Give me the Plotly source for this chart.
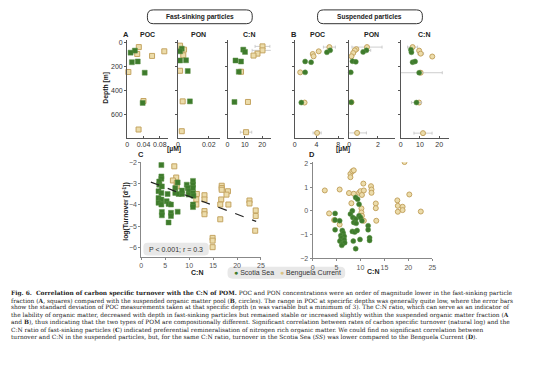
import plotly.graph_objects as go

W, H = 554, 366
GREEN = "#3e7b2c"
TAN_FILL = "#ecdcaa"
TAN_LINE = "#c4a461"

# ---------------- data ----------------
# Panel A (fast-sinking particles), depth in m
a_poc_ss_val = [0.019, 0.0085, 0.0116, 0.026, 0.043, 0.038]
a_poc_ss_dep = [70, 87, 166, 160, 253, 503]
a_poc_bc_val = [0.0286, 0.0247, 0.061, 0.091, 0.003, 0.040, 0.028]
a_poc_bc_dep = [41, 98, 114, 76, 247, 487, 723]

a_pon_ss_val = [0.0024, 0.0013, 0.0013, 0.0052, 0.0063, 0.0077]
a_pon_ss_dep = [54, 76, 152, 150, 239, 490]
a_pon_ss_err = [0.0008, 0, 0, 0, 0, 0.0008]
a_pon_bc_val = [0.0013, 0.0039, 0.0034, 0.0013, 0.003, 0.0024]
a_pon_bc_dep = [29, 62, 109, 237, 490, 737]
a_pon_bc_err = [0, 0.0012, 0, 0, 0, 0]

a_cn_ss_val = [9.1, 10.1, 4.6, 7.8, 6.5, 4.0]
a_cn_ss_dep = [62, 81, 152, 160, 245, 495]
a_cn_bc_val = [20.2, 20.2, 17.3, 15.0, 7.8, 11.8, 10.7]
a_cn_bc_dep = [35, 68, 95, 111, 245, 495, 745]
a_cn_bc_err = [4.3, 6.0, 0, 0, 0, 0, 3.3]

# Panel B (suspended particles)
b_poc_ss_val = [6.5, 5.9, 1.9, 3.0, 1.9, 1.2]
b_poc_ss_dep = [68, 84, 160, 166, 250, 500]
b_poc_bc_val = [6.36, 4.4, 3.3, 3.45, 1.0, 1.8, 4.1]
b_poc_bc_dep = [41, 76, 98, 117, 250, 500, 751]
b_poc_bc_err = [1.1, 0, 0, 0, 0, 0, 0.75]

b_pon_ss_val = [1.2, 0.97, 0.23, 0.46, 0.11, 0.14]
b_pon_ss_dep = [68, 81, 158, 163, 250, 497]
b_pon_ss_err = [0.3, 0, 0, 0, 0, 0]
b_pon_bc_val = [1.24, 0.5, 0.39, 0.28, 0.16, 0.16, 0.55]
b_pon_bc_dep = [41, 58, 68, 90, 117, 497, 751]
b_pon_bc_err = [1.05, 0, 0, 0, 0, 0, 0.65]

b_cn_ss_val = [5.3, 5.6, 6.2, 7.5, 9.6, 8.2]
b_cn_ss_dep = [62, 84, 166, 160, 253, 500]
b_cn_ss_err = [0, 0, 0, 0, 12.0, 2.6]
b_cn_bc_val = [6.2, 9.6, 10.4, 16.4, 10.4, 9.6, 11.6]
b_cn_bc_dep = [41, 70, 95, 119, 253, 500, 753]
b_cn_bc_err = [2.6, 0, 1.5, 0, 0, 0, 4.7]

# Panel C: log turnover vs C:N (fast-sinking)
c_ss_cn = [4.2, 4.2, 4.2, 3.75, 3.75, 4.3, 3.6, 4.2, 3.6, 4.2, 3.6, 4.2, 4.3, 4.3,
           5.5, 5.3, 5.7, 6.2, 6.2, 6.2, 5.7, 7.6, 7.1, 7.1, 7.6, 7.8, 8.5, 8.5,
           9.5, 9.7, 9.9, 9.9, 10.8, 10.8, 10.8, 10.8, 10.9, 10.8, 10.8]
c_ss_lt = [-2.11, -2.65, -2.76, -2.89, -3.04, -3.12, -3.35, -3.43, -3.67, -3.74, -3.90, -3.98, -4.33, -4.49,
           -3.48, -3.82, -3.95, -3.98, -4.37, -4.52, -4.83, -4.32, -3.20, -3.43, -2.93, -3.48, -3.48, -3.32,
           -3.04, -3.20, -3.35, -3.51, -2.86, -3.04, -3.20, -3.43, -3.56, -3.98, -4.10]
c_bc_cn = [6.9, 7.3, 6.6, 7.4, 7.4, 11.6, 11.5, 11.5, 13.2, 13.2, 13.2, 13.2, 14.9, 14.9, 14.9,
           16.8, 16.8, 16.8, 16.7, 16.5, 16.5, 18.1, 17.8, 18.2, 22.6, 22.6, 23.9, 23.9, 23.8]
c_bc_lt = [-2.17, -2.70, -2.84, -2.96, -3.12, -3.48, -3.74, -3.98, -3.54, -3.74, -4.29, -4.44, -5.56, -5.69, -6.0,
           -3.09, -3.20, -3.28, -3.74, -3.98, -4.68, -3.35, -3.51, -3.98, -3.79, -3.93, -4.26, -4.52, -5.22]
c_fit_intercept = -2.75
c_fit_slope = -0.0845
c_fit_x = [2.0, 24.0]

# Panel D: log turnover vs C:N (suspended)
d_bc_cn = [2.55, 3.45, 4.5, 5.65, 5.65, 7.6, 7.9, 7.9, 8.3, 8.6, 8.1, 8.6, 9.7, 10.0, 10.3, 10.6, 10.7,
           10.2, 10.2, 10.3, 10.7, 12.2, 12.3, 12.3, 13.2, 13.2, 13.3, 17.7, 17.8, 17.8, 18.8, 18.8,
           19.2, 20.2, 22.6]
d_bc_lt = [0.86, -0.11, -0.39, 0.90, -0.58, 0.75, 1.56, 1.42, 1.67, 1.71, 0.32, 0.72, 0.76, 0.83, 0.67, 1.15, 0.86,
           0.10, -0.07, -0.21, -0.42, 1.04, 0.90, 0.76, 0.31, 0.11, -0.42, 0.44, 0.21, -0.04, 0.17, 0.03,
           2.06, 0.69, -0.03]
d_ss_cn = [4.7, 4.7, 5.65, 4.7, 6.2, 6.4, 5.9, 6.6, 6.0, 6.6, 5.7, 6.2, 6.7, 6.1,
           9.0, 9.4, 9.7, 8.3, 7.9, 8.4, 9.0, 8.6, 9.1, 9.7, 10.0, 10.3, 8.3, 8.8, 9.3, 8.5, 9.9, 9.0,
           11.6, 11.6, 11.9, 11.9]
d_ss_lt = [-0.11, -0.39, -0.42, -0.80, -0.83, -0.94, -1.04, -1.08, -1.15, -1.22, -1.28, -1.39, -1.35, -1.46,
           0.56, 0.49, 0.28, 0.0, -0.14, -0.28, -0.35, -0.49, -0.53, -0.21, -0.28, -0.42, -0.87, -0.90, -0.83,
           -1.28, -1.21, -1.60, -0.63, -0.80, -1.14, -1.25]

depth_ticks = [0, 200, 400, 600]
legend_labels = ["Scotia Sea", "Benguela Current"]

# ---------------- helpers ----------------
def px(x):
    return x / W

def py(y):
    return 1 - y / H

def dx(a, b):
    return [px(a), px(b)]

def dy(top, bottom):
    return [py(bottom), py(top)]

fig = go.Figure()

def ss_marker(symbol):
    return dict(symbol=symbol, size=5, color=GREEN, line=dict(color="#5a9146", width=0.5))

def bc_marker(symbol):
    return dict(symbol=symbol, size=5, color=TAN_FILL, line=dict(color=TAN_LINE, width=1))

def err(arr):
    return dict(type="data", array=arr, color="#c2c2c2", thickness=0.8, width=1.5)

def add_depth(ax, sv, sd, bv, bd, symbol, serr=None, berr=None):
    xa = "x" if ax == 1 else f"x{ax}"
    ya = "y" if ax == 1 else f"y{ax}"
    fig.add_trace(go.Scatter(x=bv, y=bd, mode="markers", marker=bc_marker(symbol),
                             error_x=err(berr) if berr else None, xaxis=xa, yaxis=ya,
                             showlegend=False, cliponaxis=False))
    fig.add_trace(go.Scatter(x=sv, y=sd, mode="markers", marker=ss_marker(symbol),
                             error_x=err(serr) if serr else None, xaxis=xa, yaxis=ya,
                             showlegend=False, cliponaxis=False))

add_depth(1, a_poc_ss_val, a_poc_ss_dep, a_poc_bc_val, a_poc_bc_dep, "square")
add_depth(2, a_pon_ss_val, a_pon_ss_dep, a_pon_bc_val, a_pon_bc_dep, "square", a_pon_ss_err, a_pon_bc_err)
add_depth(3, a_cn_ss_val, a_cn_ss_dep, a_cn_bc_val, a_cn_bc_dep, "square", None, a_cn_bc_err)
add_depth(4, b_poc_ss_val, b_poc_ss_dep, b_poc_bc_val, b_poc_bc_dep, "circle", None, b_poc_bc_err)
add_depth(5, b_pon_ss_val, b_pon_ss_dep, b_pon_bc_val, b_pon_bc_dep, "circle", b_pon_ss_err, b_pon_bc_err)
add_depth(6, b_cn_ss_val, b_cn_ss_dep, b_cn_bc_val, b_cn_bc_dep, "circle", b_cn_ss_err, b_cn_bc_err)

# Panel C
fig.add_trace(go.Scatter(x=c_bc_cn, y=c_bc_lt, mode="markers", marker=bc_marker("square"),
                         xaxis="x7", yaxis="y7", showlegend=False))
fig.add_trace(go.Scatter(x=c_ss_cn, y=c_ss_lt, mode="markers", marker=ss_marker("square"),
                         xaxis="x7", yaxis="y7", showlegend=False))
fig.add_trace(go.Scatter(x=c_fit_x, y=[c_fit_intercept + c_fit_slope * v for v in c_fit_x],
                         mode="lines", line=dict(color="#222", width=1.2, dash="dash"),
                         xaxis="x7", yaxis="y7", showlegend=False))
# Panel D
fig.add_trace(go.Scatter(x=d_bc_cn, y=d_bc_lt, mode="markers", marker=bc_marker("circle"),
                         xaxis="x8", yaxis="y8", showlegend=False))
fig.add_trace(go.Scatter(x=d_ss_cn, y=d_ss_lt, mode="markers", marker=ss_marker("circle"),
                         xaxis="x8", yaxis="y8", showlegend=False))

# ---------------- axes ----------------
TOP_T, TOP_B = 38.25, 137.5
top_font = dict(family="Liberation Sans", size=7, color="#333")
bot_font = dict(family="Liberation Sans", size=7, color="#555")

def top_axes(i, x0, x1, xr, xticks, show_y):
    xs = "xaxis" if i == 1 else f"xaxis{i}"
    ys = "yaxis" if i == 1 else f"yaxis{i}"
    ya = "y" if i == 1 else f"y{i}"
    xa = "x" if i == 1 else f"x{i}"
    fig.layout[xs] = dict(domain=dx(x0, x1), range=xr, anchor=ya, tickvals=xticks,
                          showline=True, linecolor="#555", linewidth=1, ticks="inside",
                          ticklen=2, tickcolor="#555", showgrid=False, zeroline=False,
                          tickfont=top_font)
    fig.layout[ys] = dict(domain=dy(TOP_T, TOP_B), range=[790, -20], anchor=xa,
                          tickvals=depth_ticks, showticklabels=show_y,
                          showline=True, linecolor="#555", linewidth=1, ticks="outside",
                          ticklen=2, tickcolor="#555", showgrid=False, zeroline=False,
                          tickfont=top_font)

top_axes(1, 126.5, 167.8, [0, 0.1], [0, 0.04, 0.08], True)
top_axes(2, 178, 219.9, [0, 0.027], [0, 0.02], False)
top_axes(3, 228, 271.75, [0, 25], [0, 10, 20], False)
top_axes(4, 296, 345.5, [0, 9], [0, 4, 8], False)
top_axes(5, 351, 397.4, [0, 3.2], [0, 2], False)
top_axes(6, 403, 451.75, [0, 25], [0, 10, 20], False)

def bot_axes(i, x0, x1, top, bottom, yr, yticks):
    fig.layout[f"xaxis{i}"] = dict(domain=dx(x0, x1), range=[0, 25], anchor=f"y{i}",
                                   tickvals=[0, 5, 10, 15, 20, 25],
                                   showline=True, linecolor="#888", linewidth=1, ticks="outside",
                                   ticklen=2, tickcolor="#888", showgrid=False, zeroline=False,
                                   tickfont=bot_font)
    fig.layout[f"yaxis{i}"] = dict(domain=dy(top, bottom), range=yr, anchor=f"x{i}",
                                   tickvals=yticks,
                                   showline=True, linecolor="#888", linewidth=1, ticks="outside",
                                   ticklen=2, tickcolor="#888", showgrid=False, zeroline=False,
                                   tickfont=bot_font)

bot_axes(7, 140.8, 261.8, 161.9, 258.2, [-6.45, -1.95], [-2, -3, -4, -5, -6])
bot_axes(8, 314, 435, 162.5, 259.7, [-2, 2.05], [-2, -1, 0, 1, 2])

# ---------------- annotations ----------------
ann = []

def text(x, y, t, size=7, bold=False, color="#222", family="Liberation Sans", angle=0,
         xanchor="center", yanchor="middle"):
    ann.append(dict(x=px(x), y=py(y), xref="paper", yref="paper", showarrow=False,
                    text=f"<b>{t}</b>" if bold else t, textangle=angle,
                    font=dict(size=size, color=color, family=family),
                    xanchor=xanchor, yanchor=yanchor))

text(200, 15, "Fast-sinking particles", size=6.6, bold=True)
text(372, 15, "Suspended particles", size=6.6, bold=True)
text(125.5, 33, "A", size=7.5, bold=True)
text(295.5, 33, "B", size=7.5, bold=True)
for cx, t in [(147, "POC"), (199, "PON"), (250, "C:N"), (319, "POC"), (374, "PON"), (427, "C:N")]:
    text(cx, 33, t, size=7, bold=True)
text(105, 87, "Depth [m]", size=6.8, bold=True, angle=-90)
text(174, 149.5, "[µM]", size=6.8, bold=True)
text(345, 149.5, "[µM]", size=6.8, bold=True)
text(140.5, 155, "C", size=7.5, bold=True)
text(313, 155, "D", size=7.5, bold=True)
text(125, 213, "log(Turnover [d<sup>-1</sup>])", size=6.8, bold=True, angle=-90)
text(197, 274, "C:N", size=7, bold=True)
text(375, 273, "C:N", size=7, bold=True)
text(176, 250.5, "P &lt; 0.001; r = 0.3", size=7, color="#333")
text(233, 274.5,
     f'<span style="color:{GREEN}">●</span> {legend_labels[0]}   '
     f'<span style="color:#d9c283">●</span> {legend_labels[1]}',
     size=7, color="#333", xanchor="left")

caption = [
    "<b>Fig. 6.  Correlation of carbon specific turnover with the C:N of POM.</b> POC and PON concentrations were an order of magnitude lower in the fast-sinking particle",
    "fraction (<b>A</b>, squares) compared with the suspended organic matter pool (<b>B</b>, circles). The range in POC at specirfic depths was generally quite low, where the error bars",
    "show the standard deviation of POC measurements taken at that specific depth (n was variable but a minimum of 3). The C:N ratio, which can serve as an indicator of",
    "the lability of organic matter, decreased with depth in fast-sinking particles but remained stable or increased slightly within the suspended organic matter fraction (<b>A</b>",
    "and <b>B</b>), thus indicating that the two types of POM are compositionally different. Significant correlation between rates of carbon specific turnover (natural log) and the",
    "C:N ratio of fast-sinking particles (<b>C</b>) indicated preferential remineralisation of nitrogen rich organic matter. We could find no significant correlation between",
    "turnover and C:N in the suspended particles, but, for the same C:N ratio, turnover in the Scotia Sea (<i>SS</i>) was lower compared to the Benguela Current (<b>D</b>).",
]
for i, line in enumerate(caption):
    text(7, 295.5 + i * 7.33, line, size=5.9, color="#222", family="DejaVu Serif", xanchor="left")

# ---------------- shapes ----------------
def rrect(x0, y0, x1, y1, r):
    pts = [("M", x0 + r, y0), ("L", x1 - r, y0), ("Q", x1, y0, x1, y0 + r), ("L", x1, y1 - r),
           ("Q", x1, y1, x1 - r, y1), ("L", x0 + r, y1), ("Q", x0, y1, x0, y1 - r),
           ("L", x0, y0 + r), ("Q", x0, y0, x0 + r, y0)]
    s = ""
    for p in pts:
        cmd = p[0]
        coords = p[1:]
        parts = []
        for k in range(0, len(coords), 2):
            parts.append(f"{px(coords[k]):.5f},{py(coords[k + 1]):.5f}")
        s += cmd + " " + " ".join(parts) + " "
    return s + "Z"

shapes = [
    dict(type="path", path=rrect(147, 8, 253, 22, 6), xref="paper", yref="paper",
         line=dict(color="#333", width=1), fillcolor="white", layer="below"),
    dict(type="path", path=rrect(319, 8, 425, 22, 6), xref="paper", yref="paper",
         line=dict(color="#333", width=1), fillcolor="white", layer="below"),
    dict(type="path", path=rrect(143, 244, 209, 257, 4), xref="paper", yref="paper",
         line=dict(width=0), fillcolor="#e8e8e8", layer="below"),
    dict(type="path", path=rrect(228, 268.5, 347, 280.5, 5), xref="paper", yref="paper",
         line=dict(width=0), fillcolor="#e8e8e8", layer="below"),
]

fig.update_layout(width=W, height=H, margin=dict(l=0, r=0, t=0, b=0),
                  paper_bgcolor="white", plot_bgcolor="rgba(0,0,0,0)",
                  annotations=ann, shapes=shapes, showlegend=False)

fig.write_html("out.html", config={"displayModeBar": False},
               post_script="document.body.style.margin='0';")
